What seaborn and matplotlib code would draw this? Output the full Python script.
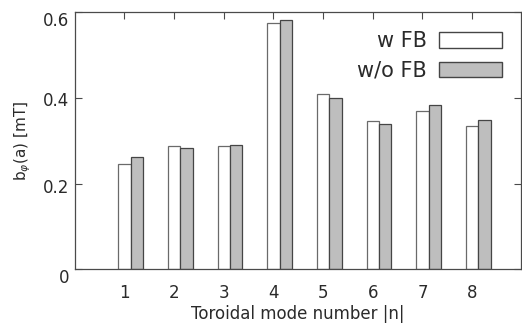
import numpy as np
import pandas as pd
import matplotlib
matplotlib.use("Agg")
import matplotlib.pyplot as plt
import matplotlib.transforms as mtransforms
import seaborn as sns
from matplotlib.patches import Patch

modes = [1, 2, 3, 4, 5, 6, 7, 8]
b_with_fb = [0.246, 0.287, 0.287, 0.574, 0.410, 0.345, 0.369, 0.334]
b_without_fb = [0.263, 0.283, 0.291, 0.583, 0.399, 0.338, 0.383, 0.349]
series_names = ["w FB", "w/o FB"]
y_ticks = [0, 0.2, 0.4, 0.6]
y_tick_labels = ["0", "0.2", "0.4", "0.6"]

df = pd.DataFrame({
    "n": modes * 2,
    "b": b_with_fb + b_without_fb,
    "FB": [series_names[0]] * len(modes) + [series_names[1]] * len(modes),
})

sns.set_theme(style="white")
plt.rcParams["font.family"] = ["DejaVu Sans"]
plt.rcParams["mathtext.fontset"] = "dejavusans"

fig = plt.figure(figsize=(5.22, 3.25), dpi=100)
ax = fig.add_axes([0.1437, 0.172, 0.855, 0.790])

white_fc = "#ffffff"
grey_fc = "#bebebe"
sns.barplot(data=df, x="n", y="b", hue="FB", order=modes,
            hue_order=series_names, palette=[white_fc, grey_fc],
            width=0.5, dodge=True, ax=ax, legend=False,
            linewidth=0.9, edgecolor="#555555", saturation=1)

for p in ax.patches:
    fc = p.get_facecolor()
    if fc[0] > 0.95:
        p.set_edgecolor("#6a6a6a")
    else:
        p.set_edgecolor("#454545")

positions = np.arange(len(modes)) - 0.125
ax.set_xticks(positions)
ax.set_xticklabels([str(m) for m in modes])
ax.set_xlim(-1.12, len(modes) - 0.135)
ax.set_ylim(0, 0.6)
ax.set_yticks(y_ticks)
ax.set_yticklabels(y_tick_labels)

spine_c = "#4a4a4a"
text_c = "#2a2a2a"
for s in ax.spines.values():
    s.set_color(spine_c)
    s.set_linewidth(0.9)
    s.set_visible(True)

ax.tick_params(axis="x", direction="in", top=True, bottom=False,
               length=5, width=0.8, color=spine_c, labelsize=12,
               labelcolor=text_c, pad=11)
ax.tick_params(axis="y", direction="in", left=True, right=True,
               length=5, width=0.8, color=spine_c, labelsize=12,
               labelcolor=text_c, pad=4)

# small downward shifts of y tick labels as in the reference
shifts_px = [6.5, 2.0, 1.0, 6.5]
for lab, dy in zip(ax.get_yticklabels(), shifts_px):
    lab.set_transform(lab.get_transform() +
                      mtransforms.ScaledTranslation(0, -dy / 100, fig.dpi_scale_trans))

ax.set_xlabel("Toroidal mode number |n|", fontsize=12, color=text_c, labelpad=2)
ax.set_ylabel(r"b$_{\varphi}$(a) [mT]", fontsize=11, color=text_c, labelpad=7)

handles = [Patch(facecolor=white_fc, edgecolor="#454545", linewidth=1.0),
           Patch(facecolor=grey_fc, edgecolor="#454545", linewidth=1.0)]
ax.legend(handles=handles, labels=series_names, markerfirst=False,
          frameon=False, fontsize=15, handlelength=3.05, handleheight=0.75,
          handletextpad=0.55, labelspacing=0.45, borderpad=0, borderaxespad=0,
          loc="upper right", bbox_to_anchor=(0.957, 0.926),
          labelcolor=text_c)

fig.savefig("out.png", dpi=100)
